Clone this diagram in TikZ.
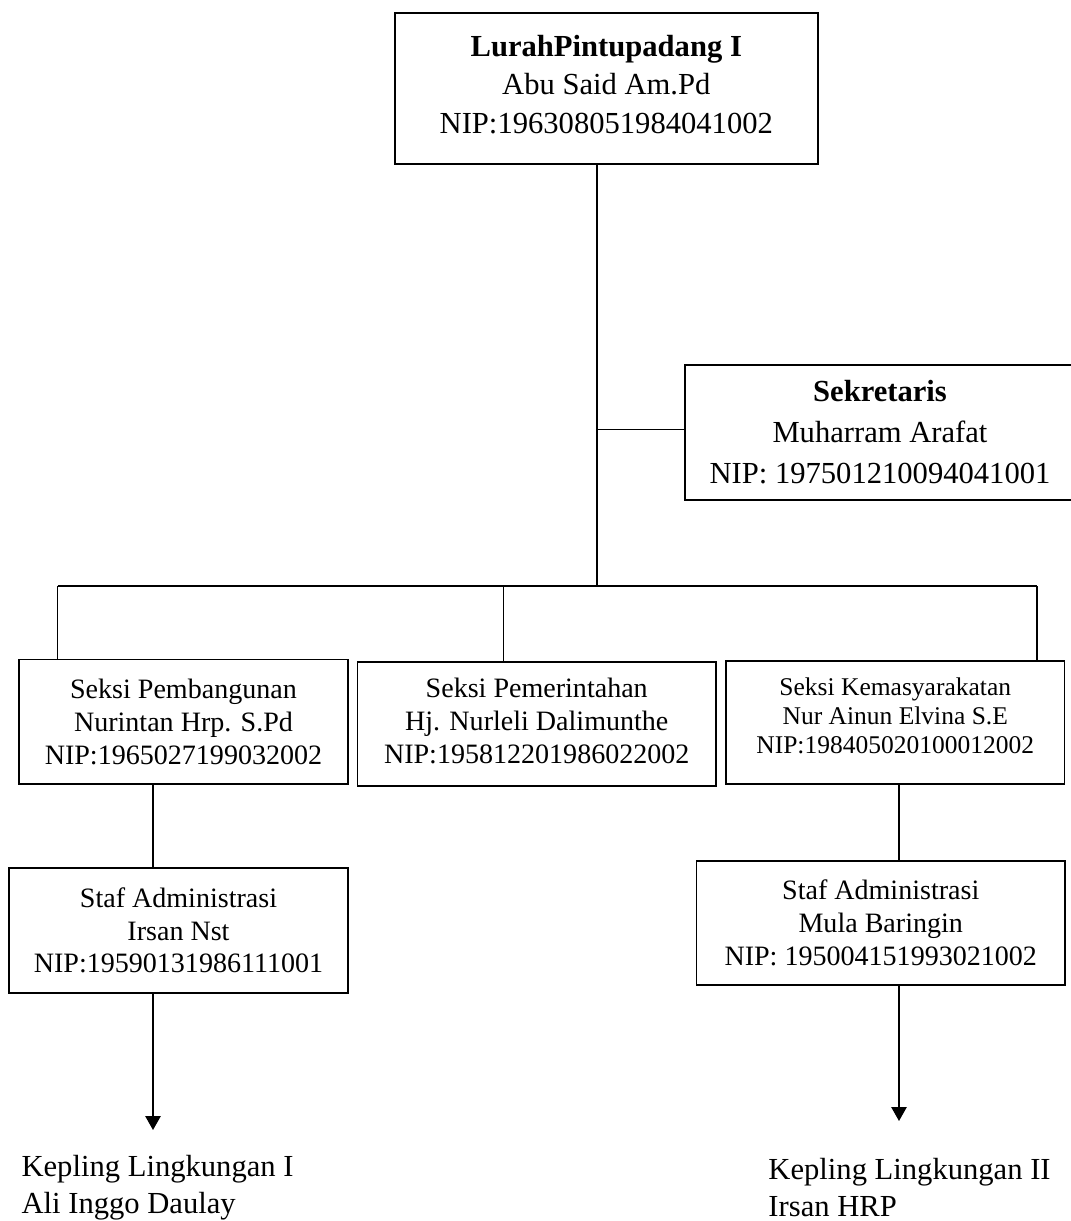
\documentclass[tikz,border=0pt]{standalone}
\usepackage{fontspec}
\setmainfont{Liberation Serif}
\usetikzlibrary{arrows.meta}
\begin{document}
\begin{tikzpicture}[x=0.75pt,y=-0.75pt,
  line width=1.3pt,
  box/.style={draw, line width=1.3pt, align=center, inner sep=0pt, anchor=center},
  fbig/.style={font=\fontsize{22.95}{28.6}\selectfont},
  fsek/.style={font=\fontsize{22.95}{30.75}\selectfont},
  fmid/.style={font=\fontsize{21.04}{24.6}\selectfont},
  fsmall/.style={font=\fontsize{19.13}{21.75}\selectfont},
  kep/.style={align=left, inner sep=0pt, anchor=west, font=\fontsize{22.95}{27.75}\selectfont},
  conn/.style={draw, line width=1.3pt},
  arr/.style={conn, -{Triangle[width=11.5pt,length=10.5pt]}}
]
\useasboundingbox (0,0) rectangle (1071,1221);

% boxes
\node[box, fbig, text depth=6pt, minimum width=317pt, minimum height=113.5pt] (top) at (606.3,88.3)
  {\textbf{LurahPintupadang I}\\Abu Said Am.Pd\\NIP:196308051984041002};
\node[box, fsek, minimum width=292.5pt, minimum height=101.25pt] (sek) at (880,432.5)
  {\textbf{Sekretaris}\\Muharram Arafat\\NIP: 197501210094041001};
\node[box, fmid, minimum width=246.75pt, minimum height=93.4pt] (seksiL) at (183.5,721.75)
  {Seksi Pembangunan\\Nurintan Hrp. S.Pd\\NIP:1965027199032002};
\node[box, fmid, text depth=4.5pt, minimum width=268.9pt, minimum height=93pt] (seksiM) at (536.75,724)
  {Seksi Pemerintahan\\Hj. Nurleli Dalimunthe\\NIP:195812201986022002};
\node[box, fsmall, text depth=10pt, minimum width=253.9pt, minimum height=92.25pt] (seksiR) at (895.25,722.5)
  {Seksi Kemasyarakatan\\Nur Ainun Elvina S.E\\NIP:198405020100012002};
\node[box, fmid, minimum width=254.25pt, minimum height=93.75pt] (stafL) at (178.5,930.5)
  {Staf Administrasi\\Irsan Nst\\NIP:19590131986111001};
\node[box, fmid, minimum width=276.4pt, minimum height=93pt] (stafR) at (880.75,923)
  {Staf Administrasi\\Mula Baringin\\NIP: 195004151993021002};

% free texts
\node[kep] (kepL) at (20.7,1188) {Kepling Lingkungan I\\Ali Inggo Daulay};
\node[kep] (kepR) at (767.6,1187.5) {Kepling Lingkungan II\\Irsan HRP};

% coordinates
\coordinate (bus) at (597,586);
\coordinate (busL) at (57.5,586);
\coordinate (busM) at (503.5,586);
\coordinate (busR) at (1037,586);
\coordinate (sj) at (597,429.5);
\coordinate (tipL) at (153,1130);
\coordinate (tipR) at (899,1121);

% connectors
\draw[conn] (top.south -| bus) -- (bus);
\draw[conn] (sj) -- (sj -| sek.west);
\draw[conn] (busL) -- (busR);
\draw[conn] (busL) -- (busL |- seksiL.north);
\draw[conn] (busM) -- (busM |- seksiM.north);
\draw[conn] (busR) -- (busR |- seksiR.north);
\draw[conn] (seksiL.south -| tipL) -- (stafL.north -| tipL);
\draw[conn] (seksiR.south -| tipR) -- (stafR.north -| tipR);
\draw[arr] (stafL.south -| tipL) -- (tipL);
\draw[arr] (stafR.south -| tipR) -- (tipR);
\end{tikzpicture}
\end{document}
